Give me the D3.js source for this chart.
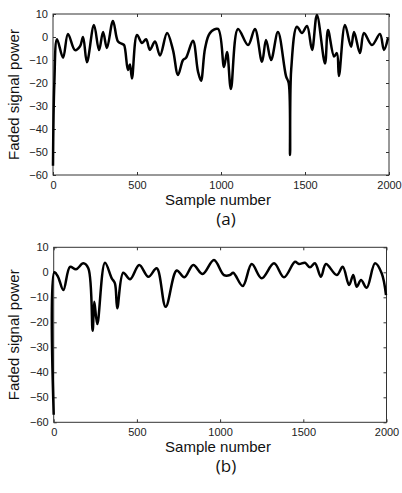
<!DOCTYPE html>
<html lang="en">
<head>
    <meta charset="UTF-8">
    <title>Faded signal power</title>
    <style>
        body { margin: 0; background: #fff; }
        .tick text { font-family: "Liberation Sans", Arial, sans-serif; font-size: 11px; fill: #222; }
        .label { font-family: "Liberation Sans", Arial, sans-serif; font-size: 15px; fill: #111; }
        .caption { font-family: "Open Sans", sans-serif; font-size: 17px; fill: #111; }
        .frame { fill: none; stroke: #333; stroke-width: 1; }
        .signal { fill: none; stroke: #000; stroke-width: 2.5; stroke-linejoin: round; }
    </style>
</head>
<body>
    <div class="chart"></div>
    <script src="https://cdn.jsdelivr.net/npm/d3@7"></script>
    <script>
    "use strict";

    var xTicks = [0, 500, 1000, 1500, 2000];
    var yTicks = [10, 0, -10, -20, -30, -40, -50, -60];

    // (a)
    var sampleA = [0, 8, 24, 60, 89, 131, 161, 179, 202, 244, 274, 298, 321, 357, 387, 411, 423, 446, 458, 470,
        500, 530, 554, 577, 607, 637, 679, 714, 744, 774, 792, 833, 863, 881, 905, 934, 982, 1018, 1036, 1059,
        1101, 1161, 1202, 1244, 1268, 1298, 1339, 1387, 1403, 1411, 1418, 1452, 1482, 1512, 1542, 1571, 1619, 1637,
        1673, 1690, 1702, 1738, 1774, 1792, 1827, 1851, 1899, 1946, 1970, 1994];
    var powerA = [-56, -20, -1, -9, 1.3, -5.7, -4, 0, -11, 5.2, -5.7, 2.2, -4.8, 7, -2, -3, -3.5, -14.3, -12, -18,
        0.9, -2.6, -1, -5.6, -2, -8, 1.7, -5.6, -16.5, -10, -9, -1.6, -15, -19, -5, 1.7, 3.5, -13, -6.5, -22.6,
        3.5, -3.5, 3.5, -10.8, -1.3, -10, 2.2, -17, -20, -51.3, -14, 4.5, 1.7, 4.8, -5.6, 9.6, -11.5, 3,
        -8.5, -7, -17, 5.2, -4.2, 2.2, -7, 1.7, -3.5, 1.3, -5.6, -0.5];

    // (b)
    var sampleB = [0, 4, 26, 58, 98, 134, 178, 208, 234, 244, 262, 308, 349, 368, 382, 418, 459, 514, 569, 619,
        673, 739, 785, 839, 895, 963, 1023, 1059, 1079, 1136, 1190, 1250, 1324, 1384, 1450, 1474, 1510, 1540,
        1570, 1606, 1636, 1701, 1737, 1775, 1800, 1821, 1847, 1881, 1931, 1971, 1997];
    var powerB = [-57, 0, -1.8, -7.1, 2.2, 1.2, 3.6, 1.6, -23.4, -11.8, -20.7, 3.8, -2.4, -4.4, -14.4, -0.2, -2.8, 2.9, -1.8, 1.6,
        -13.8, 0.7, -2, 2.9, -0.7, 4.9, -1.1, -1.1, -0.2, -5.5, 3.3, -2.4, 3.6, -2, 4.2, 3.3, 3.8, 2,
        3.6, -1.8, 3.3, -1.1, 2.2, -5.1, -1.1, -5.8, -3.1, -6.2, 3.6, -0.4, -9.1];

    var svg = d3.select('.chart').append('svg')
        .attr('width', 402)
        .attr('height', 493);

    function styleAxis(a)
    {
        a.select('.domain').remove();
        a.selectAll('line').attr('stroke', '#333');
    }

    function panel(box, samples, power, caption)
    {
        var x = d3.scaleLinear().domain([0, 2000]).range([box.left, box.right]);
        var y = d3.scaleLinear().domain([-60, 10]).range([box.bottom, box.top]);
        var g = svg.append('g');

        g.append('g')
            .attr('transform', 'translate(0,' + box.bottom + ')')
            .call(d3.axisBottom(x).tickValues(xTicks).tickSize(-3).tickPadding(6).tickFormat(d3.format('d')))
            .call(styleAxis);
        g.append('g')
            .attr('transform', 'translate(0,' + box.top + ')')
            .call(d3.axisTop(x).tickValues(xTicks).tickSize(-3).tickFormat(''))
            .call(styleAxis);
        g.append('g')
            .attr('transform', 'translate(' + box.left + ',0)')
            .call(d3.axisLeft(y).tickValues(yTicks).tickSize(-3).tickPadding(5).tickFormat(d3.format('d')))
            .call(styleAxis);
        g.append('g')
            .attr('transform', 'translate(' + box.right + ',0)')
            .call(d3.axisRight(y).tickValues(yTicks).tickSize(-3).tickFormat(''))
            .call(styleAxis);

        g.append('rect')
            .attr('class', 'frame')
            .attr('x', box.left)
            .attr('y', box.top)
            .attr('width', box.right - box.left)
            .attr('height', box.bottom - box.top);

        var line = d3.line()
            .x(function(d) { return x(d[0]); })
            .y(function(d) { return y(d[1]); })
            .curve(d3.curveCatmullRom.alpha(0.5));

        g.append('path')
            .attr('class', 'signal')
            .attr('d', line(d3.zip(samples, power)));

        g.append('text')
            .attr('class', 'label')
            .attr('text-anchor', 'middle')
            .attr('transform', 'translate(19,' + (box.top + box.bottom) / 2 + ') rotate(-90)')
            .text('Faded signal power');

        g.append('text')
            .attr('class', 'label')
            .attr('text-anchor', 'middle')
            .attr('x', 218)
            .attr('y', box.bottom + 30)
            .text('Sample number');

        g.append('text')
            .attr('class', 'caption')
            .attr('text-anchor', 'middle')
            .attr('x', 226)
            .attr('y', box.bottom + 50)
            .text(caption);
    }

    panel({ left: 53, right: 389, top: 14, bottom: 175 }, sampleA, powerA, '(a)');
    panel({ left: 53.7, right: 386.5, top: 247.3, bottom: 422.3 }, sampleB, powerB, '(b)');
    </script>
</body>
</html>
